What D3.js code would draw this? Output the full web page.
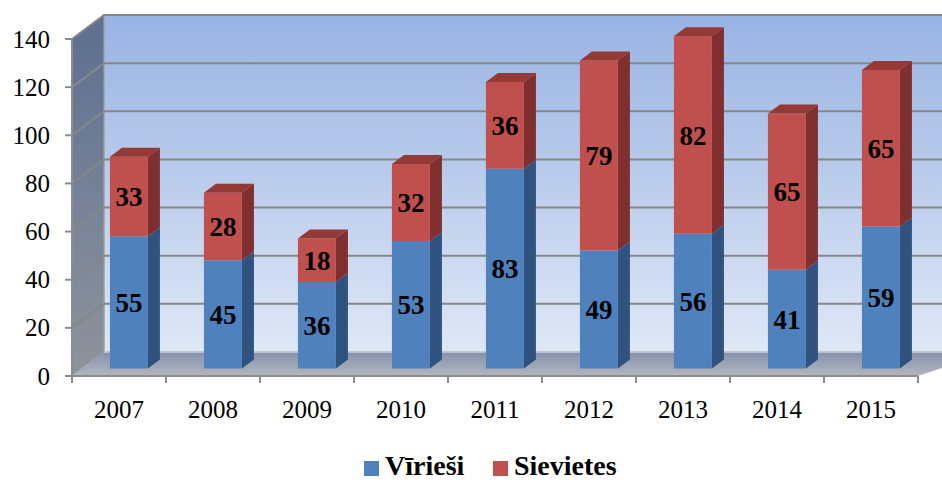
<!DOCTYPE html>
<html><head><meta charset="utf-8">
<script src="https://cdn.jsdelivr.net/npm/d3@7"></script>
<style>body{margin:0;background:#fff}svg{display:block}text{font-family:"Liberation Serif","Times New Roman",Times,serif}</style>
</head><body>
<svg id="c" width="942" height="480"></svg>
<script>
const years = ["2007","2008","2009","2010","2011","2012","2013","2014","2015"];
const men   = [55,45,36,53,83,49,56,41,59];
const women = [33,28,18,32,36,79,82,65,65];
const yTicks = [0,20,40,60,80,100,120,140];
const seriesNames = ["Vīrieši","Sievietes"];

const svg = d3.select("#c");
const DX = 32, DY = -24;          // full depth offset
const x = d3.scaleBand().domain(years).range([72, 918]).padding(0);
const y = d3.scaleLinear().domain([0,140]).range([376, 39]);
const P = (px, v, d) => [px + d*DX, y(v) + d*DY];

const defs = svg.append("defs");
function lg(id, stops, x1=0,y1=0,x2=0,y2=1){
  const g = defs.append("linearGradient").attr("id",id)
    .attr("x1",x1).attr("y1",y1).attr("x2",x2).attr("y2",y2);
  stops.forEach(([o,c])=>g.append("stop").attr("offset",o).attr("stop-color",c));
}
lg("gBack",[[0,"#98b3e3"],[1,"#dfe7f5"]]);
lg("gLeft",[[0,"#5d6f90"],[1,"#8e949c"]]);
lg("gFloor",[[0,"#8592ad"],[1,"#b3b6bd"]]);

const poly = pts => "M" + pts.map(p=>p.join(",")).join("L") + "Z";
const x0 = x.range()[0], x1 = x.range()[1] + 40;

svg.append("path").attr("d", poly([P(x0,140,1),P(x1,140,1),P(x1,0,1),P(x0,0,1)]))
  .attr("fill","url(#gBack)").attr("stroke","#a6a6a6").attr("stroke-width",1.5);
svg.append("path").attr("d", poly([P(x0,140,0),P(x0,140,1),P(x0,0,1),P(x0,0,0)]))
  .attr("fill","url(#gLeft)").attr("stroke","#a6a6a6").attr("stroke-width",1);
svg.append("path").attr("d", poly([P(x0,0,0),P(x0,0,1),P(x1,0,1),P(x.range()[1],0,0)]))
  .attr("fill","url(#gFloor)");

yTicks.forEach(t=>{
  if (t===0) return;
  const a=P(x0,t,0), b=P(x0,t,1), c=P(x1,t,1);
  svg.append("path").attr("d",`M${a}L${b}L${c}`).attr("fill","none")
    .attr("stroke","#878787").attr("stroke-width",2);
});
{ const b=P(x0,0,1), c=P(x1,0,1);
  svg.append("path").attr("d",`M${b}L${c}`).attr("stroke","#c8ccd4").attr("stroke-width",1.5); }

const axisCol = "#8c8c8c";
svg.append("line").attr("x1",x0).attr("x2",x0).attr("y1",y(0)).attr("y2",y(140))
  .attr("stroke",axisCol).attr("stroke-width",2);
svg.append("line").attr("x1",x0).attr("x2",x.range()[1]).attr("y1",y(0)).attr("y2",y(0))
  .attr("stroke",axisCol).attr("stroke-width",2);
yTicks.forEach(t=>{
  svg.append("line").attr("x1",x0-7).attr("x2",x0).attr("y1",y(t)).attr("y2",y(t))
    .attr("stroke",axisCol).attr("stroke-width",2);
  svg.append("text").attr("x",50).attr("y",y(t)).attr("dy","0.34em").attr("text-anchor","end")
    .attr("font-size",25).attr("fill","#000").text(t);
});
const bounds = years.map(v=>x(v)).concat([x.range()[1]]);
bounds.forEach(b=>{
  svg.append("line").attr("x1",b).attr("x2",b).attr("y1",y(0)).attr("y2",y(0)+7)
    .attr("stroke",axisCol).attr("stroke-width",2);
});
years.forEach(v=>{
  svg.append("text").attr("x",x(v)+x.bandwidth()/2).attr("y",409).attr("dy","0.34em")
    .attr("text-anchor","middle").attr("font-size",25)
    .attr("fill","#000").text(v);
});

const colors = [
  {front:"#4f81bd", side:"#30527e", top:"#3f6aa0"},
  {front:"#c0504d", side:"#7f302e", top:"#933a37"}
];
const BW = 38, D0 = 0.31, BD = 0.375;
years.forEach((yr,i)=>{
  const cx = x(yr) + x.bandwidth()/2;
  const l = cx - BW/2, r = cx + BW/2;
  const segs = [[0,men[i]],[men[i],men[i]+women[i]]];
  segs.forEach(([a,b],k)=>{
    const c = colors[k];
    svg.append("path").attr("d",poly([P(r,a,D0),P(r,a,D0+BD),P(r,b,D0+BD),P(r,b,D0)])).attr("fill",c.side);
    svg.append("path").attr("d",poly([P(l,a,D0),P(r,a,D0),P(r,b,D0),P(l,b,D0)])).attr("fill",c.front);
    if (k===1){
      svg.append("path").attr("d",poly([P(l,b,D0),P(r,b,D0),P(r,b,D0+BD),P(l,b,D0+BD)])).attr("fill",c.top);
    }
    const val = b-a;
    const pc = P(cx,(a+b)/2,D0);
    svg.append("text").attr("x",pc[0]).attr("y",pc[1]).attr("dy","0.35em").attr("text-anchor","middle")
      .attr("font-weight","bold").attr("font-size",27)
      .attr("fill","#000").text(val);
  });
});

const leg = [{x:364, c:colors[0].front, t:seriesNames[0]},{x:493, c:colors[1].front, t:seriesNames[1]}];
leg.forEach(o=>{
  svg.append("rect").attr("x",o.x).attr("y",461).attr("width",15).attr("height",15).attr("fill",o.c);
  svg.append("text").attr("x",o.x+21).attr("y",475).attr("font-weight","bold").attr("font-size",28)
    .attr("fill","#000").text(o.t);
});
</script>
</body></html>
